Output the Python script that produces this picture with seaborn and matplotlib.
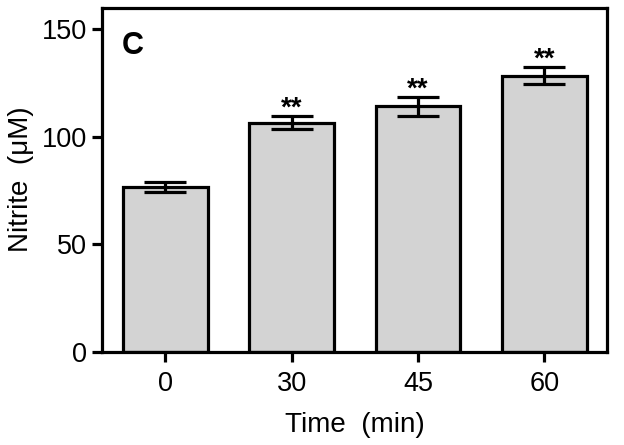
import numpy as np
import pandas as pd
import matplotlib
matplotlib.use("Agg")
import matplotlib.pyplot as plt
import seaborn as sns

# Values
times = ["0", "30", "45", "60"]
nitrite = [76.5, 106.5, 114.0, 128.3]
sem = [2.2, 2.9, 4.5, 3.9]
stars = ["", "**", "**", "**"]

df = pd.DataFrame({"time": times, "nitrite": nitrite})

sns.set_style("ticks")
plt.rcParams['font.family'] = ['Liberation Sans', 'DejaVu Sans']
plt.rcParams['text.color'] = 'black'
plt.rcParams['axes.labelcolor'] = 'black'

fig = plt.figure(figsize=(6.24, 4.45), dpi=100)
ax = fig.add_axes([0.1635, 0.21, 0.81, 0.773])

lw = 2.3
sns.barplot(data=df, x="time", y="nitrite", color="#d3d3d3", width=0.67,
            edgecolor="black", linewidth=lw, errorbar=None, saturation=1, ax=ax)

xpos = np.arange(len(times))
ax.errorbar(xpos, nitrite, yerr=sem, fmt="none", ecolor="black",
            elinewidth=lw, capsize=15, capthick=lw, zorder=5)

# significance marks just above the error bars
for x, m, s, t in zip(xpos, nitrite, sem, stars):
    if t:
        ax.text(x, m + s + 0.3, t, ha="center", va="baseline", fontsize=20,
                fontweight="bold")

ax.text(0.04, 0.888, "C", transform=ax.transAxes, fontsize=22,
        fontweight="bold", ha="left", va="center")

ax.set_ylim(0, 160)
ax.set_xlim(-0.5, 3.5)
ax.set_yticks([0, 50, 100, 150])
ax.set_xlabel("Time  (min)", fontsize=20, labelpad=11)
ax.set_ylabel("Nitrite  (\u03bcM)", fontsize=20, labelpad=6)
ax.tick_params(axis="both", labelsize=19.5, width=lw, length=7, direction="out",
               color="black", labelcolor="black")
ax.tick_params(axis="x", pad=7)
for sp in ax.spines.values():
    sp.set_visible(True)
    sp.set_linewidth(lw)
    sp.set_color("black")

fig.savefig("out.png", dpi=100)
